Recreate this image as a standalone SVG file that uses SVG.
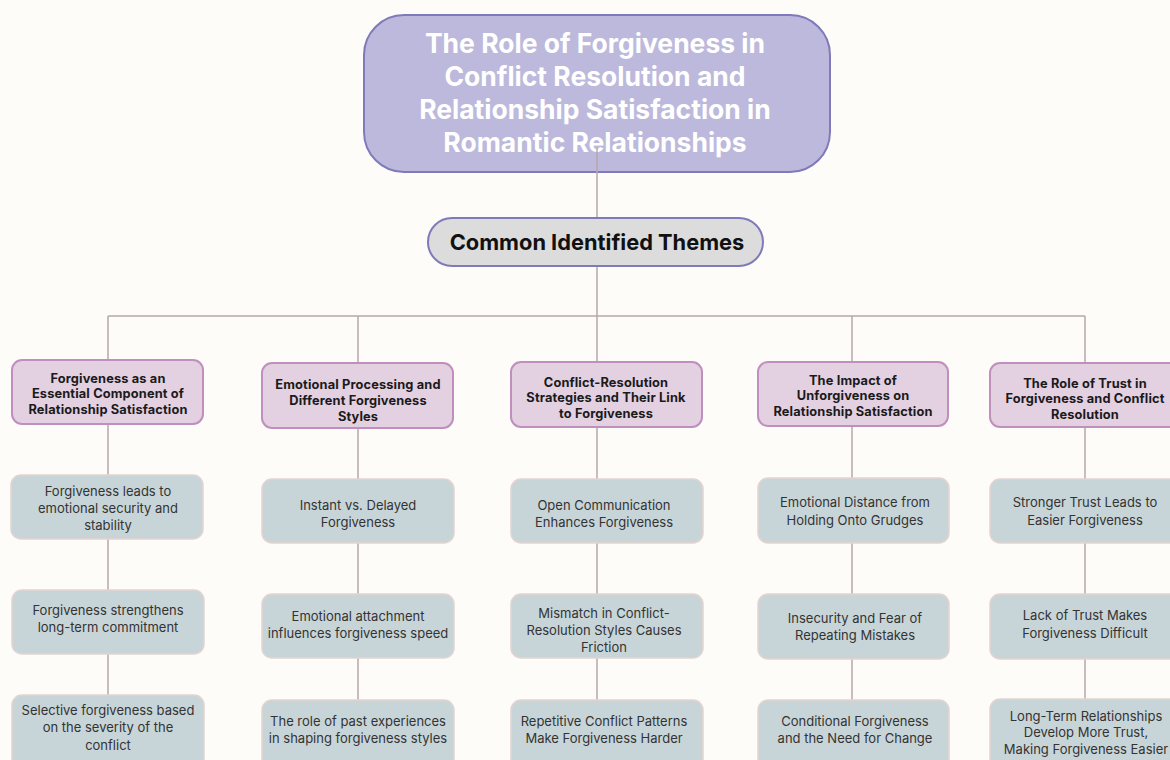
<svg xmlns="http://www.w3.org/2000/svg" width="1170" height="760" viewBox="0 0 1170 760">
<style>
.t{font-family:Inter,"Liberation Sans",sans-serif;text-anchor:middle}
.title{fill:#ffffff;font-weight:700;font-size:26.5px}
.root{fill:#111111;font-weight:700;font-size:21.8px}
.l1box{fill:#e3d0e1;stroke:#c18fbe;stroke-width:2}
.l1{fill:#1a1a1a;font-weight:700;font-size:12.8px;letter-spacing:0.15px}
.l2box{fill:#c8d5d8;stroke:#e3d3d0;stroke-width:1.5}
.l2{fill:#333333;font-size:13px}
.c{stroke:#b7a7a9;stroke-width:1.5;fill:none}
</style>
<rect width="1170" height="760" fill="#fdfcf8"/>
<g id="title">
<rect x="364" y="15" width="466" height="157" rx="40" fill="#bdb9dc" stroke="#7f7ab9" stroke-width="2"/>
<text class="t title"><tspan x="595" y="52.5">The Role of Forgiveness in</tspan><tspan x="595" y="85.5">Conflict Resolution and</tspan><tspan x="595" y="118.5">Relationship Satisfaction in</tspan><tspan x="595" y="151.5">Romantic Relationships</tspan></text>
</g>
<g id="connectors">
<path class="c" d="M597 148V218M597 266V316M108 316H1085M108 316V360M358 316V363M597 316V362M852 316V362M1085 316V363"/>
<path class="c" d="M108 424V475M108 539V590M108 654V695"/>
<path class="c" d="M358 428V479M358 543V594M358 658V700"/>
<path class="c" d="M597 427V479M597 543V594M597 658V700"/>
<path class="c" d="M852 426V478M852 543V594M852 659V700"/>
<path class="c" d="M1085 427V479M1085 543V594M1085 659V699"/>
</g>
<g id="themes">
<rect x="428" y="218" width="335" height="48" rx="24" fill="#dcdcdc" stroke="#7f7ab9" stroke-width="2"/>
<text class="t root" x="597" y="249.5">Common Identified Themes</text>
</g>
<g id="n1">
<rect class="l1box" x="12" y="360" width="191" height="64" rx="10"/>
<text class="t l1"><tspan x="108" y="382.5">Forgiveness as an</tspan><tspan x="108" y="398">Essential Component of</tspan><tspan x="108" y="413.5">Relationship Satisfaction</tspan></text>
</g>
<g id="n2">
<rect class="l1box" x="262" y="363" width="191" height="65" rx="10"/>
<text class="t l1"><tspan x="358" y="388.5">Emotional Processing and</tspan><tspan x="358" y="404.5">Different Forgiveness</tspan><tspan x="358" y="420.5">Styles</tspan></text>
</g>
<g id="n3">
<rect class="l1box" x="511" y="362" width="191" height="65" rx="10"/>
<text class="t l1"><tspan x="606" y="386.5">Conflict-Resolution</tspan><tspan x="606" y="402">Strategies and Their Link</tspan><tspan x="606" y="417.5">to Forgiveness</tspan></text>
</g>
<g id="n4">
<rect class="l1box" x="758" y="362" width="190" height="64" rx="10"/>
<text class="t l1"><tspan x="853" y="384.5">The Impact of</tspan><tspan x="853" y="400">Unforgiveness on</tspan><tspan x="853" y="415.5">Relationship Satisfaction</tspan></text>
</g>
<g id="n5">
<rect class="l1box" x="990" y="363" width="192" height="64" rx="10"/>
<text class="t l1"><tspan x="1085" y="387.5">The Role of Trust in</tspan><tspan x="1085" y="403">Forgiveness and Conflict</tspan><tspan x="1085" y="418.5">Resolution</tspan></text>
</g>
<g id="n1a"><rect class="l2box" x="11" y="475" width="192" height="64" rx="10"/>
<text class="t l2"><tspan x="108" y="495.5">Forgiveness leads to</tspan><tspan x="108" y="512.5">emotional security and</tspan><tspan x="108" y="529.5">stability</tspan></text></g>
<g id="n1b"><rect class="l2box" x="12" y="590" width="192" height="64" rx="10"/>
<text class="t l2"><tspan x="108" y="614.5">Forgiveness strengthens</tspan><tspan x="108" y="631.5">long-term commitment</tspan></text></g>
<g id="n1c"><rect class="l2box" x="12" y="695" width="192" height="75" rx="10"/>
<text class="t l2"><tspan x="108" y="714.5">Selective forgiveness based</tspan><tspan x="108" y="731.5">on the severity of the</tspan><tspan x="108" y="749.5">conflict</tspan></text></g>
<g id="n2a"><rect class="l2box" x="262" y="479" width="192" height="64" rx="10"/>
<text class="t l2"><tspan x="358" y="509.5">Instant vs. Delayed</tspan><tspan x="358" y="526.5">Forgiveness</tspan></text></g>
<g id="n2b"><rect class="l2box" x="262" y="594" width="192" height="64" rx="10"/>
<text class="t l2"><tspan x="358" y="620.5">Emotional attachment</tspan><tspan x="358" y="637.5">influences forgiveness speed</tspan></text></g>
<g id="n2c"><rect class="l2box" x="262" y="700" width="192" height="70" rx="10"/>
<text class="t l2"><tspan x="358" y="725.5">The role of past experiences</tspan><tspan x="358" y="742.5">in shaping forgiveness styles</tspan></text></g>
<g id="n3a"><rect class="l2box" x="511" y="479" width="192" height="64" rx="10"/>
<text class="t l2"><tspan x="604" y="509.5">Open Communication</tspan><tspan x="604" y="526.5">Enhances Forgiveness</tspan></text></g>
<g id="n3b"><rect class="l2box" x="511" y="594" width="192" height="64" rx="10"/>
<text class="t l2"><tspan x="604" y="617.5">Mismatch in Conflict-</tspan><tspan x="604" y="634.5">Resolution Styles Causes</tspan><tspan x="604" y="651.5">Friction</tspan></text></g>
<g id="n3c"><rect class="l2box" x="511" y="700" width="192" height="70" rx="10"/>
<text class="t l2"><tspan x="604" y="725.5">Repetitive Conflict Patterns</tspan><tspan x="604" y="742.5">Make Forgiveness Harder</tspan></text></g>
<g id="n4a"><rect class="l2box" x="758" y="478" width="191" height="65" rx="10"/>
<text class="t l2"><tspan x="855" y="506.5">Emotional Distance from</tspan><tspan x="855" y="524.5">Holding Onto Grudges</tspan></text></g>
<g id="n4b"><rect class="l2box" x="758" y="594" width="191" height="65" rx="10"/>
<text class="t l2"><tspan x="855" y="622.5">Insecurity and Fear of</tspan><tspan x="855" y="639.5">Repeating Mistakes</tspan></text></g>
<g id="n4c"><rect class="l2box" x="758" y="700" width="191" height="70" rx="10"/>
<text class="t l2"><tspan x="855" y="725.5">Conditional Forgiveness</tspan><tspan x="855" y="742.5">and the Need for Change</tspan></text></g>
<g id="n5a"><rect class="l2box" x="990" y="479" width="192" height="64" rx="10"/>
<text class="t l2"><tspan x="1085" y="506.5">Stronger Trust Leads to</tspan><tspan x="1085" y="524.5">Easier Forgiveness</tspan></text></g>
<g id="n5b"><rect class="l2box" x="990" y="594" width="192" height="65" rx="10"/>
<text class="t l2"><tspan x="1085" y="619.5">Lack of Trust Makes</tspan><tspan x="1085" y="637.5">Forgiveness Difficult</tspan></text></g>
<g id="n5c"><rect class="l2box" x="990" y="699" width="192" height="71" rx="10"/>
<text class="t l2"><tspan x="1086" y="720.5">Long-Term Relationships</tspan><tspan x="1086" y="737">Develop More Trust,</tspan><tspan x="1086" y="753.5">Making Forgiveness Easier</tspan></text></g>
</svg>
